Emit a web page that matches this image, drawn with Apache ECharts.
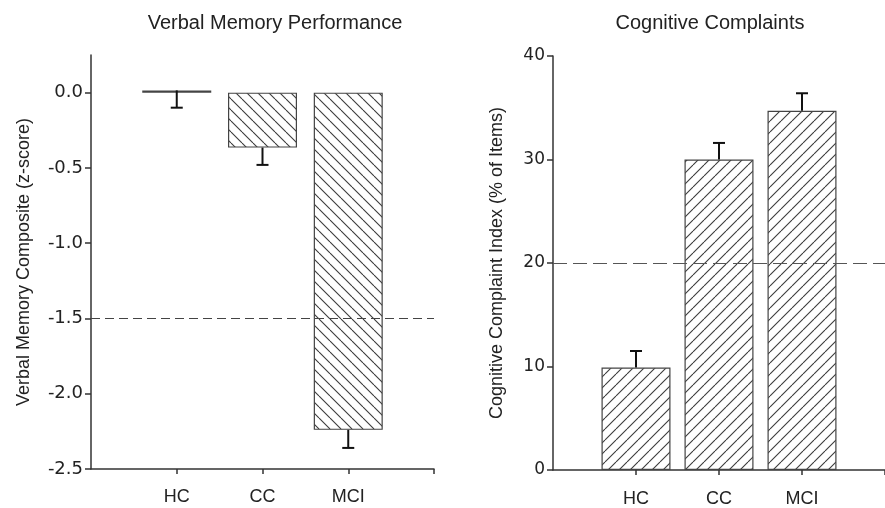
<!DOCTYPE html>
<html>
<head>
<meta charset="utf-8">
<script src="https://cdn.jsdelivr.net/npm/echarts@6/dist/echarts.min.js"></script>
<style>html,body{margin:0;padding:0;background:#fff}#c{width:885px;height:508px}</style>
</head>
<body>
<div id="c"></div>
<script>
// ---- data ----
const categories = ['HC', 'CC', 'MCI'];
const memoryMeans = [0.015, -0.365, -2.24];
const memoryErrEnds = [-0.10, -0.48, -2.36];
const complaintMeans = [9.9, 30.0, 34.7];
const complaintErrEnds = [11.5, 31.6, 36.4];
const memoryTicks = [-2.5, -2.0, -1.5, -1.0, -0.5, 0.0];
const complaintTicks = [0, 10, 20, 30, 40];
const memoryCutoff = -1.5;
const complaintCutoff = 20;

function hatch(dir) {
  const s = 11;
  const c = document.createElement('canvas');
  c.width = s; c.height = s;
  const g = c.getContext('2d');
  g.fillStyle = '#fff'; g.fillRect(0, 0, s, s);
  g.strokeStyle = '#3a3a3a'; g.lineWidth = 1.1;
  for (let k = -1; k <= 1; k++) {
    g.beginPath();
    if (dir === 'back') { g.moveTo(k * s, 0); g.lineTo(k * s + s, s); }
    else { g.moveTo(k * s, s); g.lineTo(k * s + s, 0); }
    g.stroke();
  }
  return { image: c, repeat: 'repeat' };
}

const font = 'Liberation Sans, Arial, sans-serif';
const tickFont = 'DejaVu Sans, sans-serif';
const txt = '#222';
const axisColor = '#333';

function xAxisCfg(gridIndex, ticks, margin) {
  return {
    type: 'value', gridIndex, min: 0, max: 4, interval: 1,
    splitLine: { show: false },
    axisLine: { onZero: false, lineStyle: { color: axisColor, width: 1.5 } },
    axisTick: { customValues: ticks, length: 5, lineStyle: { color: axisColor, width: 1.5 } },
    axisLabel: { customValues: [1, 2, 3], formatter: v => categories[v - 1] || '', color: txt, fontSize: 18, fontFamily: font, margin }
  };
}
function yAxisCfg(gridIndex, min, max, interval, ticks, name, gap, fmt, fs) {
  return {
    type: 'value', gridIndex, min, max, interval,
    name, nameLocation: 'middle', nameGap: gap, nameRotate: 90,
    nameTextStyle: { color: txt, fontSize: 18, fontFamily: font },
    splitLine: { show: false },
    axisLine: { show: true, onZero: false, lineStyle: { color: axisColor, width: 1.5 } },
    axisTick: { show: true, customValues: ticks, length: 6, lineStyle: { color: axisColor, width: 1.5 } },
    axisLabel: { customValues: ticks, formatter: fmt, color: txt, fontSize: fs, fontFamily: tickFont, margin: 8 }
  };
}

function errSeries(xi, yi, ends, means) {
  return {
    type: 'custom', xAxisIndex: xi, yAxisIndex: yi, z: 5,
    data: means.map((m, i) => [i + 1, m, ends[i]]),
    renderItem: (params, api) => {
      const p0 = api.coord([api.value(0), api.value(1)]);
      const p1 = api.coord([api.value(0), api.value(2)]);
      const hw = 6;
      return {
        type: 'group',
        children: [
          { type: 'line', shape: { x1: p0[0], y1: p0[1], x2: p1[0], y2: p1[1] }, style: { stroke: '#111', lineWidth: 2 } },
          { type: 'line', shape: { x1: p1[0] - hw, y1: p1[1], x2: p1[0] + hw, y2: p1[1] }, style: { stroke: '#111', lineWidth: 2 } }
        ]
      };
    }
  };
}

const chart = echarts.init(document.getElementById('c'), null, { renderer: 'canvas' });
chart.setOption({
  animation: false,
  backgroundColor: '#fff',
  graphic: [
    { type: 'text', x: 275, y: 23, style: { text: 'Verbal Memory Performance', fontSize: 20, fontFamily: font, fill: txt, align: 'center', verticalAlign: 'middle' } },
    { type: 'text', x: 710, y: 23, style: { text: 'Cognitive Complaints', fontSize: 20, fontFamily: font, fill: txt, align: 'center', verticalAlign: 'middle' } }
  ],
  grid: [
    { left: 91, top: 55, width: 343, height: 414 },
    { left: 553, top: 56, width: 342, height: 414 }
  ],
  xAxis: [xAxisCfg(0, [1, 2, 3, 4], 19), xAxisCfg(1, [1, 2, 3, 4], 20)],
  yAxis: [
    yAxisCfg(0, -2.5, 0.25, 0.5, memoryTicks, 'Verbal Memory Composite (z-score)', 58, v => v.toFixed(1), 18),
    yAxisCfg(1, 0, 40, 10, complaintTicks, 'Cognitive Complaint Index (% of Items)', 47, v => String(v), 17)
  ],
  series: [
    {
      type: 'bar', xAxisIndex: 0, yAxisIndex: 0, barWidth: 69,
      data: memoryMeans.map((v, i) => [i + 1, v]),
      itemStyle: { color: hatch('back'), borderColor: '#444', borderWidth: 1.2 },
      markLine: { silent: true, symbol: 'none', label: { show: false },
        lineStyle: { color: '#444', type: [9, 5], width: 1.1 },
        data: [{ yAxis: memoryCutoff }] }
    },
    {
      type: 'bar', xAxisIndex: 1, yAxisIndex: 1, barWidth: 69,
      data: complaintMeans.map((v, i) => [i + 1, v]),
      itemStyle: { color: hatch('fwd'), borderColor: '#444', borderWidth: 1.2 },
      markLine: { silent: true, symbol: 'none', label: { show: false },
        lineStyle: { color: '#555', type: [14, 6], width: 1.1 },
        data: [{ yAxis: complaintCutoff }] }
    },
    errSeries(0, 0, memoryErrEnds, memoryMeans),
    errSeries(1, 1, complaintErrEnds, complaintMeans)
  ]
});
</script>
</body>
</html>
